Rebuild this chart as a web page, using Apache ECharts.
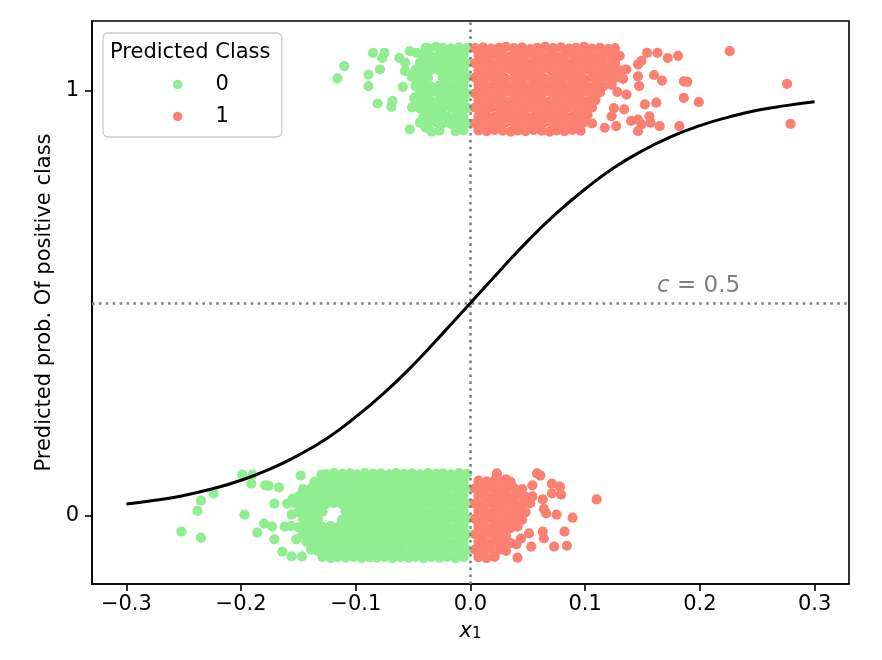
<!DOCTYPE html>
<html><head><meta charset="utf-8">
<script src="https://cdn.jsdelivr.net/npm/echarts@6/dist/echarts.min.js"></script>
<style>html,body{margin:0;padding:0;background:#fff}#c{width:882px;height:660px}</style>
</head><body><div id="c"></div>
<script>
// ---------- data ----------
const classNames = ['0', '1'];
const xTicks = [-0.3, -0.2, -0.1, 0, 0.1, 0.2, 0.3];
const yTicks = [0, 1];
const threshold = 0.5;
const boundaryX = 0;
const yLabel = 'Predicted prob. Of positive class';
const legendTitle = 'Predicted Class';

// fitted probability curve
const curveX = [-0.3,-0.275,-0.25,-0.225,-0.2,-0.175,-0.15,-0.125,-0.1,-0.075,-0.05,-0.025,0,0.025,0.05,0.075,0.1,0.125,0.15,0.175,0.2,0.225,0.25,0.275,0.3];
const curveY = [0.027,0.036,0.047,0.063,0.083,0.109,0.142,0.182,0.232,0.289,0.354,0.426,0.5,0.574,0.646,0.711,0.768,0.818,0.858,0.891,0.917,0.937,0.953,0.964,0.973];

// true class 1 (jittered around 1), predicted class 0
const topClass0 = [
[-.003,1.099],[-.010,1.101],[-.017,1.098],[-.024,1.100],[-.030,1.102],[-.037,1.099],
[-.006,1.083],[-.013,1.081],[-.020,1.084],[-.027,1.082],[-.034,1.080],[-.041,1.083],
[-.003,1.064],[-.010,1.066],[-.017,1.063],[-.024,1.065],[-.030,1.067],[-.037,1.064],[-.044,1.066],
[-.006,1.046],[-.013,1.048],[-.020,1.045],[-.027,1.047],[-.034,1.049],[-.041,1.046],[-.048,1.048],
[-.003,1.030],[-.010,1.028],[-.017,1.031],[-.024,1.029],[-.037,1.030],[-.044,1.028],[-.051,1.031],
[-.006,1.012],[-.013,1.010],[-.020,1.013],[-.027,1.011],[-.034,1.009],[-.041,1.012],[-.048,1.010],
[-.003,.993],[-.010,.995],[-.017,.992],[-.024,.994],[-.030,.996],[-.037,.993],[-.044,.995],
[-.006,.977],[-.013,.975],[-.020,.978],[-.027,.976],[-.034,.974],[-.041,.977],[-.048,.975],
[-.003,.959],[-.010,.957],[-.017,.960],[-.024,.958],[-.030,.956],[-.037,.959],[-.044,.957],[-.051,.960],
[-.006,.939],[-.013,.941],[-.020,.938],[-.027,.940],[-.034,.942],[-.041,.939],
[-.003,.922],[-.010,.924],[-.017,.921],[-.024,.923],[-.030,.925],[-.037,.922],
[-.006,.906],[-.013,.904],[-.027,.905],[-.034,.903],
[-.110,1.057],[-.116,1.028],[-.085,1.088],[-.075,1.088],[-.077,1.076],[-.089,1.037],[-.079,1.049],
[-.089,1.010],[-.081,.969],[-.068,.975],[-.069,.961],[-.059,1.008],[-.062,1.076],[-.057,1.065],
[-.057,1.045],[-.053,1.092],[-.047,1.088],[-.053,.908],[-.049,1.028],[-.049,.982],[-.039,1.100],
[-.044,.924],[-.039,.912]
];

// true class 1 (jittered around 1), predicted class 1
const topClass1 = [
[.004,1.099],[.011,1.101],[.018,1.098],[.025,1.100],[.031,1.102],[.038,1.099],[.045,1.101],[.052,1.097],[.058,1.100],[.065,1.102],[.072,1.099],[.079,1.101],[.086,1.098],[.092,1.100],[.099,1.102],[.106,1.098],[.113,1.100],[.120,1.097],[.126,1.099],
[.007,1.083],[.014,1.081],[.021,1.084],[.028,1.082],[.035,1.080],[.041,1.083],[.048,1.082],[.055,1.084],[.062,1.081],[.069,1.083],[.075,1.080],[.082,1.082],[.089,1.084],[.096,1.081],[.102,1.083],[.109,1.080],[.116,1.082],[.123,1.084],[.130,1.081],[.154,1.088],[.163,1.088],[.172,1.076],[.181,1.081],
[.004,1.064],[.011,1.066],[.018,1.063],[.025,1.065],[.031,1.067],[.038,1.064],[.045,1.066],[.052,1.063],[.058,1.065],[.065,1.067],[.072,1.064],[.079,1.066],[.086,1.063],[.092,1.065],[.099,1.067],[.106,1.064],[.113,1.066],[.120,1.063],[.126,1.065],[.149,1.069],
[.007,1.046],[.014,1.048],[.021,1.045],[.028,1.047],[.035,1.049],[.041,1.046],[.048,1.048],[.055,1.045],[.062,1.047],[.069,1.049],[.075,1.046],[.082,1.048],[.089,1.045],[.096,1.047],[.102,1.049],[.109,1.046],[.116,1.048],[.123,1.045],[.130,1.047],[.136,1.049],[.146,1.061],
[.004,1.030],[.011,1.028],[.018,1.031],[.025,1.029],[.031,1.027],[.038,1.030],[.045,1.028],[.052,1.031],[.058,1.029],[.065,1.027],[.072,1.030],[.079,1.028],[.086,1.031],[.092,1.029],[.099,1.027],[.106,1.030],[.113,1.028],[.120,1.031],[.126,1.029],[.133,1.027],[.146,1.033],[.160,1.036],[.167,1.023],[.186,1.021],[.189,1.020],
[.007,1.012],[.014,1.010],[.021,1.013],[.028,1.011],[.035,1.009],[.041,1.012],[.048,1.010],[.055,1.013],[.062,1.011],[.069,1.009],[.075,1.012],[.082,1.010],[.089,1.013],[.096,1.011],[.102,1.009],[.109,1.012],[.116,1.010],[.123,1.013],[.147,1.010],
[.004,.993],[.011,.995],[.018,.992],[.025,.994],[.031,.996],[.038,.993],[.045,.995],[.052,.992],[.058,.994],[.065,.996],[.072,.993],[.079,.995],[.086,.992],[.092,.994],[.099,.996],[.106,.993],[.113,.995],[.128,.996],[.136,.990],
[.007,.977],[.014,.975],[.021,.978],[.028,.976],[.035,.974],[.041,.977],[.048,.975],[.055,.978],[.062,.976],[.069,.974],[.075,.977],[.082,.975],[.089,.978],[.096,.976],[.102,.974],[.109,.977],[.186,.982],[.199,.972],
[.004,.959],[.011,.957],[.018,.960],[.025,.958],[.031,.956],[.038,.959],[.045,.957],[.052,.960],[.058,.958],[.065,.956],[.072,.959],[.079,.957],[.086,.960],[.092,.958],[.099,.956],[.106,.959],[.125,.958],[.152,.967],[.162,.971],
[.007,.939],[.014,.941],[.021,.938],[.028,.940],[.035,.942],[.041,.939],[.048,.941],[.055,.938],[.062,.940],[.069,.942],[.075,.939],[.082,.941],[.089,.938],[.096,.940],[.102,.942],[.134,.955],[.123,.939],[.156,.939],
[.004,.922],[.011,.924],[.018,.921],[.025,.923],[.031,.925],[.038,.922],[.045,.924],[.052,.921],[.058,.923],[.065,.925],[.072,.922],[.079,.924],[.086,.921],[.092,.923],[.099,.925],[.106,.922],[.140,.928],[.146,.931],[.157,.924],[.149,.920],
[.007,.906],[.014,.904],[.021,.907],[.028,.905],[.035,.903],[.041,.906],[.048,.904],[.055,.907],[.062,.905],[.069,.903],[.075,.906],[.082,.904],[.089,.907],[.096,.905],[.127,.916],[.146,.904],[.165,.916],[.182,.916],[.117,.912],
[.226,1.092],[.276,1.015],[.279,.921]
];

// true class 0 (jittered around 0), predicted class 0
const bottomClass0 = [
[-.003,.098],[-.010,.100],[-.017,.097],[-.024,.099],[-.030,.098],[-.037,.100],[-.044,.097],[-.051,.099],[-.058,.098],[-.065,.100],[-.071,.097],[-.078,.099],[-.085,.098],[-.092,.100],[-.099,.097],[-.105,.099],[-.112,.098],[-.119,.100],[-.126,.097],
[-.006,.082],[-.013,.080],[-.020,.083],[-.027,.081],[-.034,.079],[-.041,.082],[-.048,.080],[-.054,.083],[-.061,.081],[-.068,.079],[-.075,.082],[-.082,.080],[-.088,.083],[-.095,.081],[-.102,.079],[-.109,.082],[-.116,.080],[-.122,.083],[-.129,.081],[-.136,.079],
[-.003,.064],[-.010,.062],[-.017,.065],[-.024,.063],[-.030,.061],[-.037,.064],[-.044,.062],[-.051,.065],[-.058,.063],[-.065,.061],[-.071,.064],[-.078,.062],[-.085,.065],[-.092,.063],[-.099,.061],[-.105,.064],[-.112,.062],[-.119,.065],[-.126,.063],[-.133,.061],[-.139,.064],[-.146,.062],
[-.006,.046],[-.013,.044],[-.020,.047],[-.027,.045],[-.034,.043],[-.041,.046],[-.048,.044],[-.054,.047],[-.061,.045],[-.068,.043],[-.075,.046],[-.082,.044],[-.088,.047],[-.095,.045],[-.102,.043],[-.109,.046],[-.116,.044],[-.122,.047],[-.129,.045],[-.136,.043],[-.143,.046],[-.150,.044],
[-.003,.028],[-.010,.026],[-.017,.029],[-.024,.027],[-.030,.025],[-.037,.028],[-.044,.026],[-.051,.029],[-.058,.027],[-.065,.025],[-.071,.028],[-.078,.026],[-.085,.029],[-.092,.027],[-.099,.025],[-.105,.028],[-.112,.026],[-.119,.029],[-.126,.027],[-.133,.025],[-.139,.028],[-.146,.026],[-.153,.029],
[-.006,.010],[-.013,.008],[-.020,.011],[-.027,.009],[-.034,.007],[-.041,.010],[-.048,.008],[-.054,.011],[-.061,.009],[-.068,.007],[-.075,.010],[-.082,.008],[-.088,.011],[-.095,.009],[-.102,.007],[-.109,.010],[-.129,.009],[-.136,.007],[-.143,.010],[-.150,.008],
[-.003,-.008],[-.010,-.010],[-.017,-.007],[-.024,-.009],[-.030,-.011],[-.037,-.008],[-.044,-.010],[-.051,-.007],[-.058,-.009],[-.065,-.011],[-.071,-.008],[-.078,-.010],[-.085,-.007],[-.092,-.009],[-.099,-.011],[-.105,-.008],[-.112,-.010],[-.133,-.009],[-.139,-.011],[-.146,-.008],
[-.006,-.026],[-.013,-.028],[-.020,-.025],[-.027,-.027],[-.034,-.029],[-.041,-.026],[-.048,-.028],[-.054,-.025],[-.061,-.027],[-.068,-.029],[-.075,-.026],[-.082,-.028],[-.088,-.025],[-.095,-.027],[-.102,-.029],[-.109,-.026],[-.116,-.028],[-.122,-.025],[-.129,-.027],[-.136,-.029],[-.143,-.026],[-.150,-.028],[-.156,-.025],
[-.003,-.044],[-.010,-.046],[-.017,-.043],[-.024,-.045],[-.030,-.047],[-.037,-.044],[-.044,-.046],[-.051,-.043],[-.058,-.045],[-.065,-.047],[-.071,-.044],[-.078,-.046],[-.085,-.043],[-.092,-.045],[-.099,-.047],[-.105,-.044],[-.112,-.046],[-.119,-.043],[-.126,-.045],[-.133,-.047],[-.139,-.044],[-.146,-.046],
[-.006,-.062],[-.013,-.064],[-.020,-.061],[-.027,-.063],[-.034,-.065],[-.041,-.062],[-.048,-.064],[-.054,-.061],[-.061,-.063],[-.068,-.065],[-.075,-.062],[-.082,-.064],[-.088,-.061],[-.095,-.063],[-.102,-.065],[-.109,-.062],[-.116,-.064],[-.122,-.061],[-.129,-.063],[-.136,-.065],[-.143,-.062],
[-.003,-.080],[-.010,-.082],[-.017,-.079],[-.024,-.081],[-.030,-.083],[-.037,-.080],[-.044,-.082],[-.051,-.079],[-.058,-.081],[-.065,-.083],[-.071,-.080],[-.078,-.082],[-.085,-.079],[-.092,-.081],[-.099,-.083],[-.105,-.080],[-.112,-.082],[-.119,-.079],[-.126,-.081],[-.133,-.083],[-.139,-.080],
[-.006,-.098],[-.013,-.100],[-.020,-.097],[-.027,-.099],[-.034,-.098],[-.041,-.100],[-.048,-.097],[-.054,-.099],[-.061,-.098],[-.068,-.100],[-.075,-.097],[-.082,-.099],[-.088,-.098],[-.095,-.100],[-.102,-.097],[-.109,-.099],[-.116,-.098],[-.122,-.100],[-.129,-.097],
[-.199,.096],[-.190,.096],[-.191,.075],[-.179,.071],[-.176,.070],[-.167,.066],[-.148,.094],[-.224,.052],[-.235,.035],[-.238,.011],
[-.197,.002],[-.252,-.038],[-.235,-.052],[-.180,-.019],[-.173,-.026],[-.186,-.040],[-.171,-.056],[-.171,.028],[-.164,-.085],[-.156,-.096],
[-.147,-.096],[-.152,-.056],[-.162,-.026],[-.160,.028],[-.155,.040],[-.147,.052],[-.138,.052],[-.130,.096],[-.156,.002],[-.145,.009]
];

// true class 0 (jittered around 0), predicted class 1
const bottomClass1 = [
[.023,.099],[.058,.099],[.061,.094],
[.007,.082],[.014,.080],[.021,.083],[.028,.081],[.035,.079],[.031,.085],
[.004,.064],[.011,.062],[.018,.065],[.025,.063],[.031,.061],[.038,.064],[.045,.062],[.054,.071],[.071,.075],[.078,.068],
[.007,.046],[.014,.044],[.021,.047],[.028,.045],[.035,.043],[.041,.046],[.048,.044],[.079,.049],[.071,.052],[.054,.045],
[.004,.028],[.011,.026],[.018,.029],[.025,.027],[.031,.025],[.038,.028],[.045,.026],[.052,.029],[.063,.038],[.110,.038],
[.007,.010],[.014,.008],[.021,.011],[.028,.009],[.035,.007],[.041,.010],[.048,.008],[.064,.016],[.066,.005],[.075,.002],[.089,-.005],
[.004,-.008],[.011,-.010],[.018,-.007],[.025,-.009],[.031,-.011],[.038,-.008],[.045,-.010],
[.007,-.026],[.014,-.028],[.021,-.025],[.028,-.027],[.035,-.029],[.041,-.026],
[.004,-.044],[.011,-.046],[.018,-.043],[.025,-.045],[.031,-.047],[.051,-.042],[.063,-.038],[.082,-.038],
[.007,-.062],[.014,-.064],[.021,-.061],[.028,-.063],[.035,-.065],[.044,-.054],[.064,-.054],
[.004,-.080],[.011,-.082],[.018,-.079],[.025,-.081],[.031,-.083],[.040,-.068],[.053,-.073],[.073,-.073],[.084,-.071],
[.007,-.098],[.014,-.100],[.021,-.097],[.041,-.099]
];

const classColors = ['#90EE90', '#FA8072'];

// ---------- chart ----------
const FONT = 'DejaVu Sans';
const chart = echarts.init(document.getElementById('c'), null, { renderer: 'canvas' });
const fmtX = v => (v < -1e-9 ? '\u2212' : '') + Math.abs(v).toFixed(1);

const option = {
  animation: false,
  backgroundColor: '#ffffff',
  grid: { left: 92, right: 33, top: 21, bottom: 76, show: true, borderColor: '#000', borderWidth: 1.6, backgroundColor: 'transparent' },
  xAxis: {
    type: 'value', min: -0.33, max: 0.33,
    axisLine: { show: true, onZero: false, lineStyle: { color: '#000', width: 1.6 } },
    axisTick: { show: true, length: 7, lineStyle: { color: '#000', width: 1.6 }, customValues: xTicks },
    axisLabel: { customValues: xTicks, formatter: fmtX, fontFamily: FONT, fontSize: 21, color: '#000', margin: 10 },
    splitLine: { show: false },
    name: '{i|x}{s|1}', nameLocation: 'middle', nameGap: 37,
    nameTextStyle: {
      fontFamily: FONT, fontSize: 21, color: '#000',
      rich: {
        i: { fontFamily: FONT, fontSize: 21, fontStyle: 'italic', color: '#000', lineHeight: 21, verticalAlign: 'top', padding: [0, 0, 5, 0] },
        s: { fontFamily: FONT, fontSize: 15, color: '#000', lineHeight: 15, verticalAlign: 'bottom' }
      }
    }
  },
  yAxis: {
    type: 'value', min: -0.161, max: 1.163,
    axisLine: { show: true, onZero: false, lineStyle: { color: '#000', width: 1.6 } },
    axisTick: { show: true, length: 7, lineStyle: { color: '#000', width: 1.6 }, customValues: yTicks },
    axisLabel: { customValues: yTicks, formatter: v => String(Math.round(v)), fontFamily: FONT, fontSize: 21, color: '#000', margin: 13 },
    splitLine: { show: false },
    name: yLabel, nameLocation: 'middle', nameGap: 34,
    nameTextStyle: { fontFamily: FONT, fontSize: 21, color: '#000' }
  },
  legend: {
    orient: 'vertical', left: 103, top: 33, padding: [41, 53, 10, 70],
    itemWidth: 9.5, itemHeight: 9.5, itemGap: 11, icon: 'circle',
    textStyle: { fontFamily: FONT, fontSize: 21, color: '#000', padding: [0, 0, 0, 28] },
    backgroundColor: 'rgba(255,255,255,0.8)', borderColor: '#cccccc', borderWidth: 1.3, borderRadius: 5,
    data: classNames
  },
  graphic: [
    { type: 'text', z: 100, left: 110, top: 42, style: { text: legendTitle, font: '21px "DejaVu Sans"', fill: '#000' } },
    { type: 'text', z: 100, left: 657, top: 275, style: {
        text: '{i|c} = 0.5', fill: '#808080', font: '23px "DejaVu Sans"',
        rich: { i: { fontStyle: 'italic', fontFamily: FONT, fontSize: 23, fill: '#808080' } }
      } }
  ],
  series: [
    {
      type: 'line', name: 'guides', data: [], silent: true, z: 1,
      markLine: {
        silent: true, symbol: 'none', animation: false,
        label: { show: false },
        lineStyle: { color: '#808080', width: 2.6, type: [2.6, 4.3] },
        data: [{ xAxis: boundaryX }, { yAxis: threshold }]
      }
    },
    {
      type: 'scatter', name: classNames[0], data: topClass0.concat(bottomClass0),
      symbol: 'circle', symbolSize: 10.2, itemStyle: { color: classColors[0], opacity: 1 }, z: 2, silent: true
    },
    {
      type: 'scatter', name: classNames[1], data: topClass1.concat(bottomClass1),
      symbol: 'circle', symbolSize: 10.2, itemStyle: { color: classColors[1], opacity: 1 }, z: 2, silent: true
    },
    {
      type: 'line', name: 'curve', data: curveX.map((x, i) => [x, curveY[i]]),
      smooth: true, showSymbol: false, symbol: 'none', silent: true, z: 5,
      lineStyle: { color: '#000', width: 3 }
    }
  ]
};
chart.setOption(option);
</script></body></html>
